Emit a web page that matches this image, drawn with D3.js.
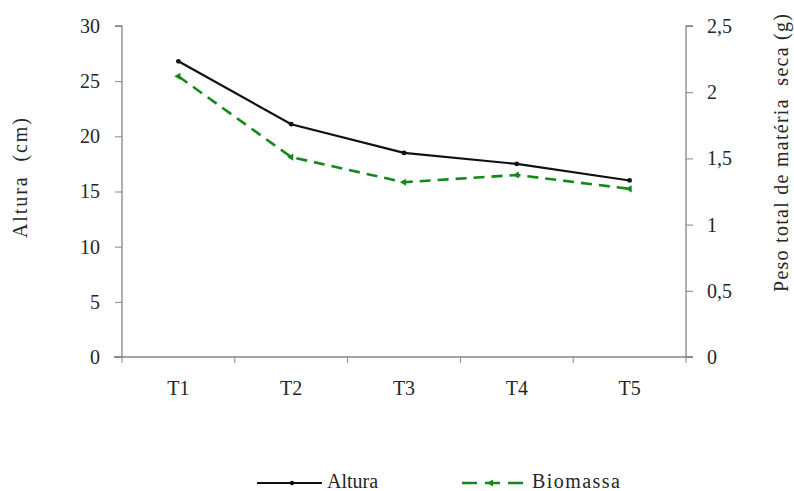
<!DOCTYPE html>
<html><head><meta charset="utf-8">
<script src="https://cdn.jsdelivr.net/npm/d3@7"></script>
<style>body{margin:0;background:#fff}</style>
</head><body>
<svg id="c" width="794" height="491"></svg>
<script>
const categories = ["T1","T2","T3","T4","T5"];
const altura = [26.8, 21.1, 18.5, 17.5, 16.0];
const biomassa = [2.12, 1.51, 1.32, 1.375, 1.27];
const leftTicks = [0,5,10,15,20,25,30];
const rightTicks = [0,0.5,1,1.5,2,2.5];
const rightTickLabels = ["0","0,5","1","1,5","2","2,5"];

const FF = '"Liberation Serif"';
const svg = d3.select("#c");
const L = 122, R = 686, T = 26, B = 357;
const x = d3.scaleBand().domain(categories).range([L, R]);
const yL = d3.scaleLinear().domain([0,30]).range([B, T]);
const yR = d3.scaleLinear().domain([0,2.5]).range([B, T]);
const axisColor = "#858585";
const fs = "20px";
const txt = "#262626";

const gl = svg.append("g").attr("transform", `translate(${L},0)`)
  .call(d3.axisLeft(yL).tickValues(leftTicks).tickSize(7).tickPadding(15).tickFormat(d3.format("d")));
const gr = svg.append("g").attr("transform", `translate(${R},0)`)
  .call(d3.axisRight(yR).tickValues(rightTicks).tickSize(7).tickPadding(14).tickFormat((d,i)=>rightTickLabels[i]));
const gb = svg.append("g").attr("transform", `translate(0,${B})`)
  .call(d3.axisBottom(x).tickSize(0).tickPadding(24));
gb.selectAll(".bt").data(d3.range(categories.length+1)).enter().append("line")
  .attr("x1", i => L + i*x.step()).attr("x2", i => L + i*x.step())
  .attr("y1", 0).attr("y2", 6).attr("stroke", axisColor);

[gl, gr, gb].forEach(g => {
  g.attr("font-family", FF).attr("font-size", 20);
  g.select(".domain").attr("stroke", axisColor).attr("stroke-width", 1.3);
  g.selectAll(".tick line").attr("stroke", axisColor);
  g.selectAll("text").style("font-family", FF).style("font-size", fs).attr("fill", txt);
});
gl.select(".domain").attr("d", `M-7,${T}H0V${B}H-7`);
gr.select(".domain").attr("d", `M7,${T}H0V${B}H7`);
gb.select(".domain").attr("d", `M${L-8},0H${R+6}`);

svg.append("text").attr("transform", `translate(27,178) rotate(-90)`)
  .attr("text-anchor","middle").attr("xml:space","preserve").style("font-family",FF).style("font-size","20px").attr("fill",txt)
  .attr("textLength",120).attr("lengthAdjust","spacing")
  .text("Altura  (cm)");
svg.append("text").attr("transform", `translate(788,153) rotate(-90)`)
  .attr("text-anchor","middle").attr("xml:space","preserve").style("font-family",FF).style("font-size","20px").attr("fill",txt)
  .attr("textLength",278).attr("lengthAdjust","spacing")
  .text("Peso total de matéria  seca (g)");

const cx = d => x(d) + x.bandwidth()/2;
const lineA = d3.line().x((d,i)=>cx(categories[i])).y(d=>yL(d));
const lineB = d3.line().x((d,i)=>cx(categories[i])).y(d=>yR(d));

svg.append("path").attr("d", lineA(altura)).attr("fill","none").attr("stroke","#111").attr("stroke-width",2.2);
svg.selectAll(".ma").data(altura).enter().append("circle")
  .attr("cx",(d,i)=>cx(categories[i])).attr("cy",d=>yL(d)).attr("r",2.4).attr("fill","#111");

const green = "#14891a";
svg.append("path").attr("d", lineB(biomassa)).attr("fill","none").attr("stroke",green).attr("stroke-width",2.6).attr("stroke-dasharray","11,7");
const tri = d3.symbol().type(d3.symbolTriangle).size(22);
svg.selectAll(".mb").data(biomassa).enter().append("path")
  .attr("d", tri).attr("transform",(d,i)=>`translate(${cx(categories[i])},${yR(d)}) rotate(-90)`).attr("fill",green);

const ly = 483;
svg.append("line").attr("x1",257).attr("x2",322).attr("y1",ly).attr("y2",ly).attr("stroke","#111").attr("stroke-width",2.2);
svg.append("circle").attr("cx",292).attr("cy",ly).attr("r",2.2).attr("fill","#111");
svg.append("text").attr("x",327).attr("y",ly+5).style("font-family",FF).style("font-size",fs).attr("fill",txt).text("Altura");
svg.append("line").attr("x1",462).attr("x2",528).attr("y1",ly).attr("y2",ly).attr("stroke",green).attr("stroke-width",2.6).attr("stroke-dasharray","15,8");
svg.append("path").attr("d",tri).attr("transform",`translate(491,${ly}) rotate(-90)`).attr("fill",green);
svg.append("text").attr("x",532).attr("y",ly+5).style("font-family",FF).style("font-size",fs).attr("fill",txt)
  .attr("textLength",88).attr("lengthAdjust","spacing").text("Biomassa");
</script>
</body></html>
